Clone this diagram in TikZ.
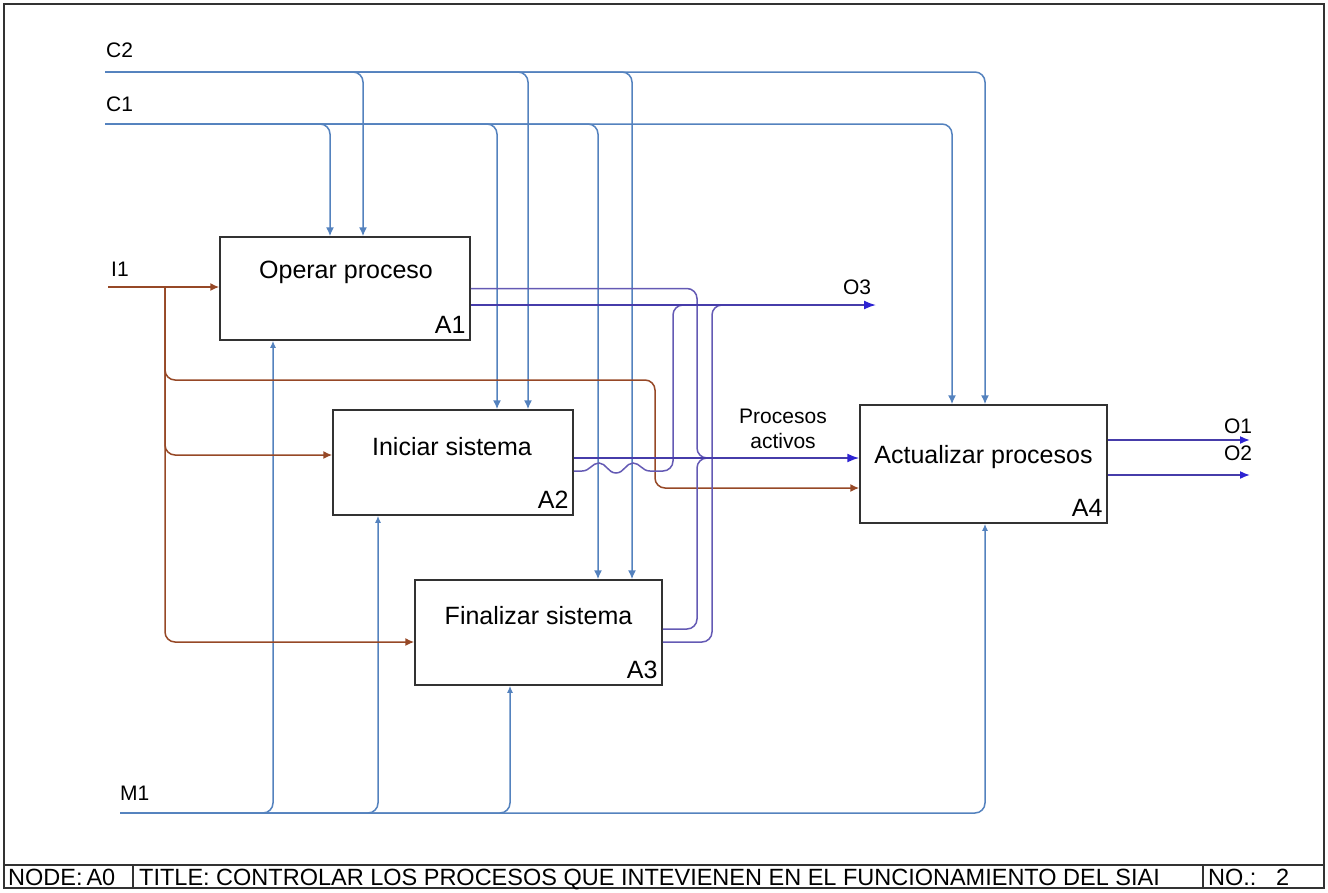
\documentclass[tikz,border=0pt]{standalone}
\usepackage{fontspec}
\setmainfont{Liberation Sans}
\usetikzlibrary{arrows.meta,calc}
\definecolor{ctlblue}{RGB}{84,130,190}
\definecolor{inbrown}{RGB}{150,72,38}
\definecolor{outviolet}{RGB}{100,90,180}
\definecolor{outline}{RGB}{70,60,170}
\definecolor{outtip}{RGB}{45,35,210}
\definecolor{boxgray}{RGB}{50,50,50}
\begin{document}
\begin{tikzpicture}[x=1pt,y=-1pt,
  procbox/.style={draw=boxgray,line width=1.5pt,inner sep=0pt},
  boxtext/.style={font=\fontsize{25}{30}\selectfont,inner sep=0pt},
  boxnum/.style={font=\fontsize{25}{30}\selectfont,inner sep=0pt,anchor=base east},
  lbl/.style={font=\fontsize{21}{25}\selectfont,inner sep=0pt},
  foot/.style={font=\fontsize{23.5}{28}\selectfont,inner sep=0pt,anchor=base west},
  ctl/.style={draw=ctlblue,line width=1.5pt,rounded corners=10pt},
  ctlarrow/.style={ctl,-{Latex[length=9pt,width=8pt]}},
  mecharrow/.style={ctl,-{Latex[length=7pt,width=6pt]}},
  inp/.style={draw=inbrown,line width=1.5pt,rounded corners=10pt,-{Latex[length=9pt,width=8pt]}},
  outp/.style={draw=outviolet,line width=1.5pt,rounded corners=10pt},
  outarrow/.style={draw=outline,line width=1.6pt,-{Latex[length=12pt,width=9pt,color=outtip]}}
]
\useasboundingbox (0,0) rectangle (1328,892);

% sheet frame and title block
\draw[boxgray,line width=1.2pt] (4,4) rectangle (1324,888);
\draw[boxgray,line width=1.2pt] (4,865) -- (1324,865);
\draw[boxgray,line width=1.2pt] (133,865) -- (133,888);
\draw[boxgray,line width=1.2pt] (1203,865) -- (1203,888);
\node[foot] (fnode) at (8,885) {NODE:\,A0};
\node[foot] (ftitle) at (139,885) {TITLE: CONTROLAR LOS PROCESOS QUE INTEVIENEN EN EL FUNCIONAMIENTO DEL SIAI};
\node[foot] (fno) at (1208,885) {NO.:};
\node[foot] (fnum) at (1276,885) {2};

% activity boxes
\node[procbox,minimum width=250pt,minimum height=103pt] (A1) at (345,288.5) {};
\node[procbox,minimum width=240pt,minimum height=105pt] (A2) at (453,462.5) {};
\node[procbox,minimum width=247pt,minimum height=105pt] (A3) at (538.5,632.5) {};
\node[procbox,minimum width=247pt,minimum height=118pt] (A4) at (983.5,464) {};

\node[boxtext] (A1t) at ($(A1.north)+(1,36)$) {Operar proceso};
\node[boxtext] (A2t) at ($(A2.north)+(-1,37)$) {Iniciar sistema};
\node[boxtext] (A3t) at ($(A3.north)+(0,36)$) {Finalizar sistema};
\node[boxtext] (A4t) at ($(A4.north)+(0,53)$) {Actualizar procesos};
\node[boxnum] (A1n) at ($(A1.south east)+(-5,-7)$) {A1};
\node[boxnum] (A2n) at ($(A2.south east)+(-5,-7)$) {A2};
\node[boxnum] (A3n) at ($(A3.south east)+(-5,-7)$) {A3};
\node[boxnum] (A4n) at ($(A4.south east)+(-5,-7)$) {A4};

% boundary labels and line ends
\node[lbl,anchor=west] (C2l) at (106,50) {C2};
\node[lbl,anchor=west] (C1l) at (106,104) {C1};
\node[lbl,anchor=west] (I1l) at (111,269) {I1};
\node[lbl,anchor=west] (M1l) at (120,793) {M1};
\node[lbl] (O3l) at (857,287) {O3};
\node[lbl] (O1l) at (1238,426) {O1};
\node[lbl] (O2l) at (1238,453) {O2};
\node[lbl,align=center] (PAl) at (783,429) {Procesos\\activos};

\coordinate (C2) at (105,72);
\coordinate (C1) at (105,124);
\coordinate (I1) at (108,287);
\coordinate (Ib) at (165,287);
\coordinate (M1) at (120,813);
\coordinate (ij) at (655,380);
\coordinate (pa) at (697,458);
\coordinate (j3) at (712,305);
\coordinate (O3) at (876,305);
\coordinate (O1) at (1250,440);
\coordinate (O2) at (1250,475);

% controls
\draw[ctlarrow] (C2) -| ($(A4.north)+(1.5,0)$);
\draw[ctlarrow] (C2) -| ($(A1.north)+(18,0)$);
\draw[ctlarrow] (C2) -| ($(A2.north)+(75,0)$);
\draw[ctlarrow] (C2) -| ($(A3.north)+(93.5,0)$);
\draw[ctlarrow] (C1) -| ($(A4.north)+(-31.5,0)$);
\draw[ctlarrow] (C1) -| ($(A1.north)+(-15,0)$);
\draw[ctlarrow] (C1) -| ($(A2.north)+(44,0)$);
\draw[ctlarrow] (C1) -| ($(A3.north)+(59.5,0)$);

% mechanism
\draw[mecharrow] (M1) -| ($(A4.south)+(1.5,0)$);
\draw[mecharrow] (M1) -| ($(A1.south)+(-72,0)$);
\draw[mecharrow] (M1) -| ($(A2.south)+(-75,0)$);
\draw[mecharrow] (M1) -| ($(A3.south)+(-28.5,0)$);

% input
\draw[inp] (I1) -- (I1 -| A1.west);
\draw[inp] (Ib) |- ($(A2.west)+(0,-7.5)$);
\draw[inp] (Ib) |- ($(A3.west)+(0,9.5)$);
\draw[inp] (Ib) |- (ij) |- ($(A4.west)+(0,24)$);

% outputs
\draw[outp] (A1.east) -| (pa) -- ++(14,0);
\draw[outp] ($(A3.east)+(0,-3.5)$) -| (pa) -- ++(14,0);
\draw[outp] ($(A3.east)+(0,9.5)$) -| (j3) -- ++(14,0);
\draw[outp,sharp corners] ($(A2.east)+(0,8.5)$) -- (582,471)
  .. controls (590,471) and (592,463) .. (599,463)
  .. controls (606,463) and (608,473) .. (616,473)
  .. controls (624,473) and (626,463) .. (633,463)
  .. controls (640,463) and (642,471) .. (650,471)
  [rounded corners=10pt] -- (673,471) -- (673,305) -- (690,305);
\draw[outarrow] ($(A1.east)+(0,16.5)$) -- (O3);
\draw[outarrow] ($(A2.east)+(0,-4.5)$) -- ($(A4.west)+(0,-6)$);
\draw[outarrow,-{Latex[length=10pt,width=8pt,color=outtip]}] ($(A4.east)+(0,-24)$) -- (O1);
\draw[outarrow,-{Latex[length=10pt,width=8pt,color=outtip]}] ($(A4.east)+(0,11)$) -- (O2);
\end{tikzpicture}
\end{document}
